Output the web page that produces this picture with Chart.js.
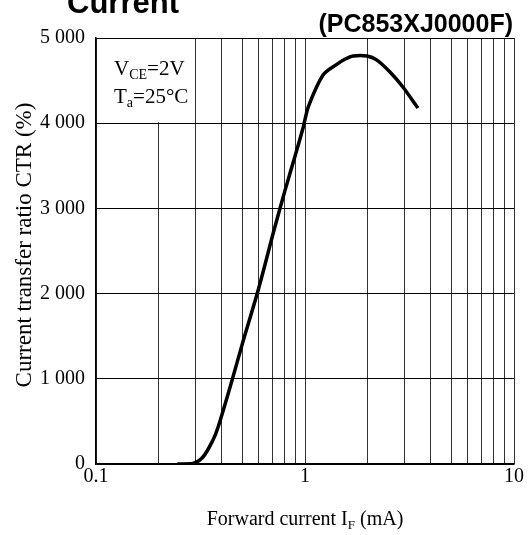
<!DOCTYPE html>
<html>
<head>
<meta charset="utf-8">
<script src="https://cdn.jsdelivr.net/npm/chart.js@4"></script>
<style>
  html, body { margin: 0; padding: 0; background: #fff; }
  #wrap { width: 532px; height: 535px; }
</style>
</head>
<body>
<div id="wrap"><canvas id="ctrChart" width="532" height="535"></canvas></div>
<script>
// Data
const forwardCurrent = [0.245, 0.29, 0.325, 0.363, 0.384, 0.448, 0.50, 0.60, 0.71, 0.80, 0.90, 0.98, 1.04, 1.22, 1.42, 1.55, 1.70, 1.98, 2.21, 2.55, 2.94, 3.47];
const ctrValues = [0, 5, 82, 282, 434, 986, 1400, 2060, 2740, 3200, 3630, 3950, 4200, 4566, 4690, 4750, 4789, 4789, 4740, 4600, 4425, 4178];
const xTickValues = [0.1, 0.2, 0.3, 0.4, 0.5, 0.6, 0.7, 0.8, 0.9, 1, 2, 3, 4, 5, 6, 7, 8, 9, 10];
const xTickLabels = { 0.1: '0.1', 1: '1', 10: '10' };
const yTickValues = [0, 1000, 2000, 3000, 4000, 5000];

const serif = '"Liberation Serif", "Times New Roman", serif';
const sans = '"Liberation Sans", Arial, sans-serif';

// text with subscripts
function drawSub(ctx, parts, x, y, size, subSize) {
    let cx = x;
    parts.forEach(p => {
        ctx.font = (p.sub ? subSize : size) + 'px ' + serif;
        ctx.fillText(p.t, cx, p.sub ? y + 4 : y);
        cx += ctx.measureText(p.t).width;
    });
    return cx;
}

function widthOf(ctx, parts, size, subSize) {
    let w = 0;
    parts.forEach(p => {
        ctx.font = (p.sub ? subSize : size) + 'px ' + serif;
        w += ctx.measureText(p.t).width;
    });
    return w;
}

const textPlugin = {
    id: 'texts',
    beforeDatasetsDraw(chart) {
        const ctx = chart.ctx;
        const xs = chart.scales.x, ys = chart.scales.y;
        // conditions box hides the grid behind it
        ctx.save();
        ctx.fillStyle = '#fff';
        const x0 = xs.getPixelForValue(0.1) + 1, x1 = xs.getPixelForValue(0.3) - 1;
        const y0 = ys.getPixelForValue(5000) + 1, y1 = ys.getPixelForValue(4000) - 1;
        ctx.fillRect(x0, y0, x1 - x0, y1 - y0);
        ctx.restore();
    },
    afterDraw(chart) {
        const ctx = chart.ctx;
        ctx.save();
        ctx.fillStyle = '#000';
        ctx.textBaseline = 'alphabetic';

        // titles
        ctx.font = 'bold 31px ' + sans;
        ctx.textAlign = 'left';
        ctx.fillText('Current', 67, 13);
        ctx.font = 'bold 25px ' + sans;
        ctx.textAlign = 'right';
        ctx.fillText('(PC853XJ0000F)', 513, 32);

        // conditions
        ctx.textAlign = 'left';
        drawSub(ctx, [{ t: 'V' }, { t: 'CE', sub: true }, { t: '=2V' }], 114, 75, 21, 14);
        drawSub(ctx, [{ t: 'T' }, { t: 'a', sub: true }, { t: '=25°C' }], 114, 103, 21, 14);

        // x axis title
        const parts = [{ t: 'Forward current I' }, { t: 'F', sub: true }, { t: ' (mA)' }];
        const w = widthOf(ctx, parts, 20, 13);
        drawSub(ctx, parts, 305 - w / 2, 525, 20, 13);

        // y axis title
        ctx.translate(25, 245);
        ctx.rotate(-Math.PI / 2);
        ctx.textAlign = 'center';
        ctx.textBaseline = 'middle';
        ctx.font = '23px ' + serif;
        ctx.fillText('Current transfer ratio CTR (%)', 0, 0);
        ctx.restore();
    }
};

new Chart(document.getElementById('ctrChart'), {
    type: 'line',
    data: {
        datasets: [{
            data: forwardCurrent.map((x, i) => ({ x: x, y: ctrValues[i] })),
            borderColor: '#000',
            borderWidth: 3.5,
            pointRadius: 0,
            tension: 0.3,
            fill: false
        }]
    },
    options: {
        responsive: false,
        animation: false,
        layout: { padding: { top: 38, right: 18, left: 0, bottom: 0 } },
        plugins: { legend: { display: false }, tooltip: { enabled: false } },
        scales: {
            x: {
                type: 'logarithmic',
                min: 0.1,
                max: 10,
                afterBuildTicks: scale => { scale.ticks = xTickValues.map(v => ({ value: v })); },
                afterFit: scale => { scale.height = 71; },
                ticks: {
                    autoSkip: false,
                    maxRotation: 0,
                    padding: 1,
                    color: '#000',
                    font: { family: serif, size: 20 },
                    callback: v => xTickLabels[v] || ''
                },
                grid: { color: '#333', lineWidth: 1, drawTicks: false },
                border: { color: '#000', width: 1.5 }
            },
            y: {
                min: 0,
                max: 5000,
                afterBuildTicks: scale => { scale.ticks = yTickValues.map(v => ({ value: v })); },
                afterFit: scale => { scale.width = 96; },
                ticks: {
                    padding: 11,
                    color: '#000',
                    font: { family: serif, size: 20 },
                    callback: v => v >= 1000 ? Math.floor(v / 1000) + ' 000' : String(v)
                },
                grid: { color: '#000', lineWidth: 1, drawTicks: false },
                border: { color: '#000', width: 1.5 }
            }
        }
    },
    plugins: [textPlugin]
});
</script>
</body>
</html>
